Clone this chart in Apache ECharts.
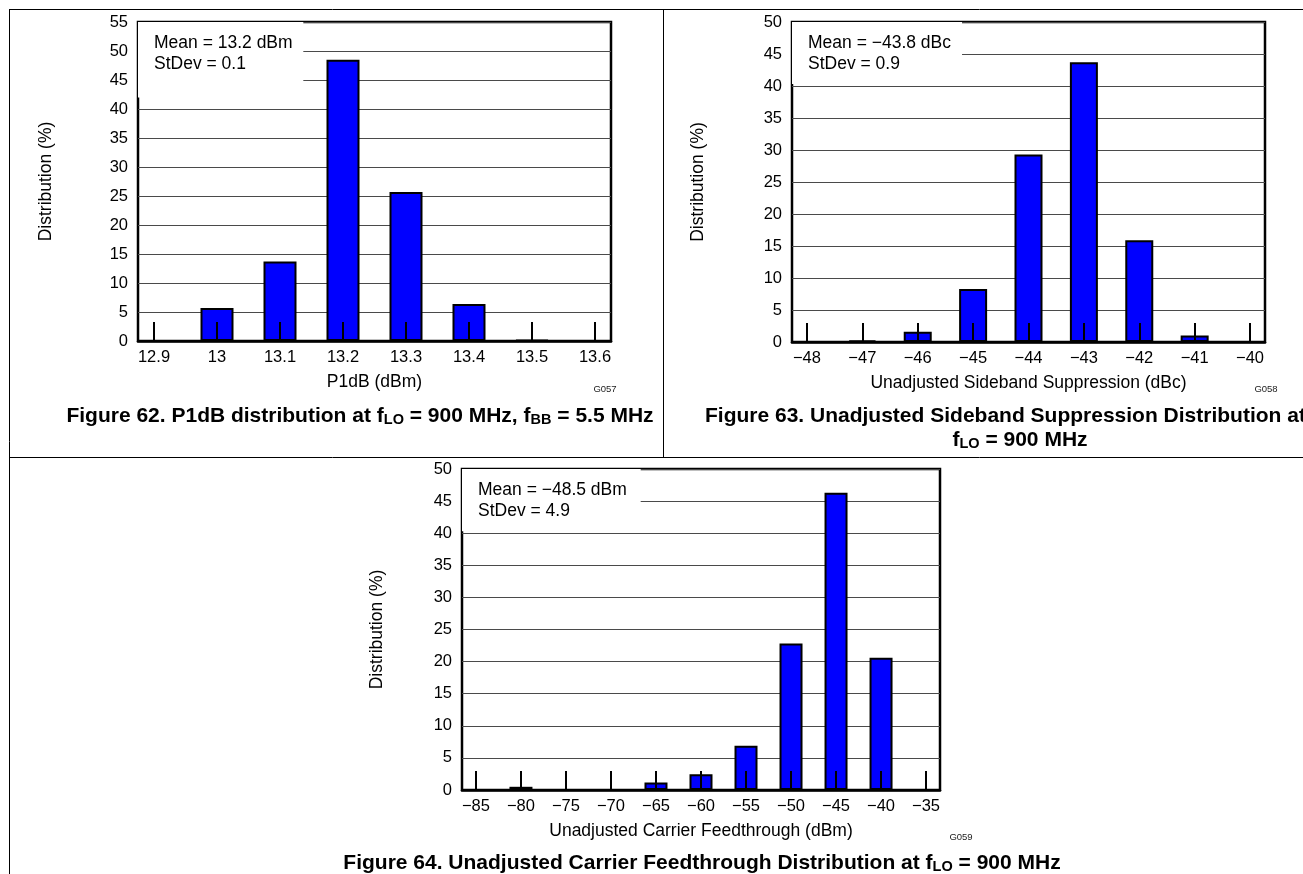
<!DOCTYPE html>
<html><head><meta charset="utf-8">
<script src="https://cdn.jsdelivr.net/npm/echarts@6/dist/echarts.min.js"></script>
<style>html,body{margin:0;padding:0;background:#fff}#c{width:1303px;height:874px}</style>
</head><body><div id="c"></div>
<script>
const FONT = '"Liberation Sans", Arial, Helvetica, sans-serif';

// Figure 62: P1dB distribution
const p1dbBins = [12.9, 13.0, 13.1, 13.2, 13.3, 13.4, 13.5, 13.6];
const p1dbPct  = [0, 5.7, 13.7, 48.5, 25.7, 6.4, 0.15, 0];
// Figure 63: Unadjusted sideband suppression
const ssBins = [-48, -47, -46, -45, -44, -43, -42, -41, -40];
const ssPct  = [0, 0.25, 1.6, 8.3, 29.3, 43.7, 15.9, 1.0, 0];
// Figure 64: Unadjusted carrier feedthrough
const cfBins = [-85, -80, -75, -70, -65, -60, -55, -50, -45, -40, -35];
const cfPct  = [0, 0.5, 0, 0, 1.15, 2.45, 6.9, 22.8, 46.3, 20.6, 0];

const yMax = [55, 50, 50];
const xNames = ['P1dB (dBm)', 'Unadjusted Sideband Suppression (dBc)', 'Unadjusted Carrier Feedthrough (dBm)'];
const stats = [
  'Mean = 13.2 dBm\nStDev = 0.1',
  'Mean = \u221243.8 dBc\nStDev = 0.9',
  'Mean = \u221248.5 dBm\nStDev = 4.9'
];
const gCodes = ['G057', 'G058', 'G059'];

const chart = echarts.init(document.getElementById('c'), null, {renderer: 'canvas'});

const fmt = v => {
  const s = String(Math.round(Math.abs(v) * 10) / 10);
  return v < 0 ? '\u2212' + s : s;
};

const panels = [
  {bins: p1dbBins, vals: p1dbPct, pad: 0.0254, barW: 33, grid: {left: 138, top: 22, width: 473, height: 319}, boxR: 13.137, boxB: 42, nameGapY: 83},
  {bins: ssBins, vals: ssPct, pad: 0.27, barW: 28, grid: {left: 792, top: 22, width: 473, height: 320}, boxR: -45.2, boxB: 40.3, nameGapY: 85},
  {bins: cfBins, vals: cfPct, pad: 1.55, barW: 23, grid: {left: 462, top: 469, width: 478, height: 321}, boxR: -66.7, boxB: 40.3, nameGapY: 76}
];

const grid = [], xAxis = [], yAxis = [], series = [];
panels.forEach((p, i) => {
  const xMin = p.bins[0] - p.pad, xMax = p.bins[p.bins.length - 1] + p.pad;
  grid.push(Object.assign({show: true, borderColor: '#000', borderWidth: 2.5, backgroundColor: '#fff', containLabel: false}, p.grid));
  xAxis.push({
    type: 'value', gridIndex: i, min: xMin, max: xMax, z: 5,
    name: xNames[i], nameLocation: 'middle', nameGap: 32,
    nameTextStyle: {fontFamily: FONT, fontSize: 17.5, color: '#000'},
    axisLine: {show: true, onZero: false, lineStyle: {color: '#000', width: 2.5}},
    axisTick: {show: true, inside: true, length: 19, customValues: p.bins, lineStyle: {color: '#000', width: 2}},
    axisLabel: {show: true, customValues: p.bins, formatter: fmt, margin: 8, fontFamily: FONT, fontSize: 16.5, color: '#000'},
    splitLine: {show: false}
  });
  yAxis.push({
    type: 'value', gridIndex: i, min: 0, max: yMax[i], interval: 5,
    name: 'Distribution (%)', nameLocation: 'middle', nameGap: p.nameGapY, nameRotate: 90,
    nameTextStyle: {fontFamily: FONT, fontSize: 17.5, color: '#000'},
    axisLine: {show: false}, axisTick: {show: false},
    axisLabel: {margin: 10, fontFamily: FONT, fontSize: 16.5, color: '#000'},
    splitLine: {show: true, lineStyle: {color: '#4a4a4a', width: 1}}
  });
  series.push({
    type: 'bar', xAxisIndex: i, yAxisIndex: i, barWidth: p.barW,
    data: p.bins.map((b, k) => [b, p.vals[k]]),
    itemStyle: {color: '#0000ff', borderColor: '#000', borderWidth: 2},
    silent: true,
    markArea: {
      silent: true,
      itemStyle: {color: '#fff'},
      label: {show: true, position: 'insideTopLeft', offset: [11, 5], formatter: stats[i],
        fontFamily: FONT, fontSize: 17.5, lineHeight: 21.5, color: '#000'},
      data: [[{coord: [xMin, yMax[i]]}, {coord: [p.boxR, p.boxB]}]]
    }
  });
});

const capStyle = {fontFamily: FONT, fontSize: 21, fontWeight: 'bold', fill: '#000',
  rich: {
    m: {fontFamily: FONT, fontSize: 21, fontWeight: 'bold', lineHeight: 28, verticalAlign: 'bottom'},
    s: {fontFamily: FONT, fontSize: 14.5, fontWeight: 'bold', lineHeight: 16, verticalAlign: 'bottom'}
  }};
const cap = (x, y, txt, align) => ({type: 'text', x, y, style: Object.assign({}, capStyle, {text: txt, align: align || 'center', verticalAlign: 'middle'})});

const graphic = [
  {type: 'line', shape: {x1: 9, y1: 9.5, x2: 1303, y2: 9.5}, style: {stroke: '#000', lineWidth: 1}},
  {type: 'line', shape: {x1: 9.5, y1: 9, x2: 9.5, y2: 874}, style: {stroke: '#000', lineWidth: 1}},
  {type: 'line', shape: {x1: 663.5, y1: 9, x2: 663.5, y2: 457}, style: {stroke: '#000', lineWidth: 1}},
  {type: 'line', shape: {x1: 9, y1: 457.5, x2: 1303, y2: 457.5}, style: {stroke: '#000', lineWidth: 1}},
  {type: 'text', x: 605, y: 389, style: {text: gCodes[0], fontFamily: FONT, fontSize: 9.5, fill: '#222', align: 'center', verticalAlign: 'middle'}},
  {type: 'text', x: 1266, y: 389, style: {text: gCodes[1], fontFamily: FONT, fontSize: 9.5, fill: '#222', align: 'center', verticalAlign: 'middle'}},
  {type: 'text', x: 961, y: 837, style: {text: gCodes[2], fontFamily: FONT, fontSize: 9.5, fill: '#222', align: 'center', verticalAlign: 'middle'}},
  cap(360, 413, '{m|Figure 62. P1dB distribution at f}{s|LO}{m| = 900 MHz, f}{s|BB}{m| = 5.5 MHz}'),
  cap(705, 413, '{m|Figure 63. Unadjusted Sideband Suppression Distribution at}', 'left'),
  cap(1020, 437, '{m|f}{s|LO}{m| = 900 MHz}'),
  cap(702, 860, '{m|Figure 64. Unadjusted Carrier Feedthrough Distribution at f}{s|LO}{m| = 900 MHz}')
];

chart.setOption({
  animation: false,
  backgroundColor: '#fff',
  grid, xAxis, yAxis, series, graphic
});
</script>
</body></html>
